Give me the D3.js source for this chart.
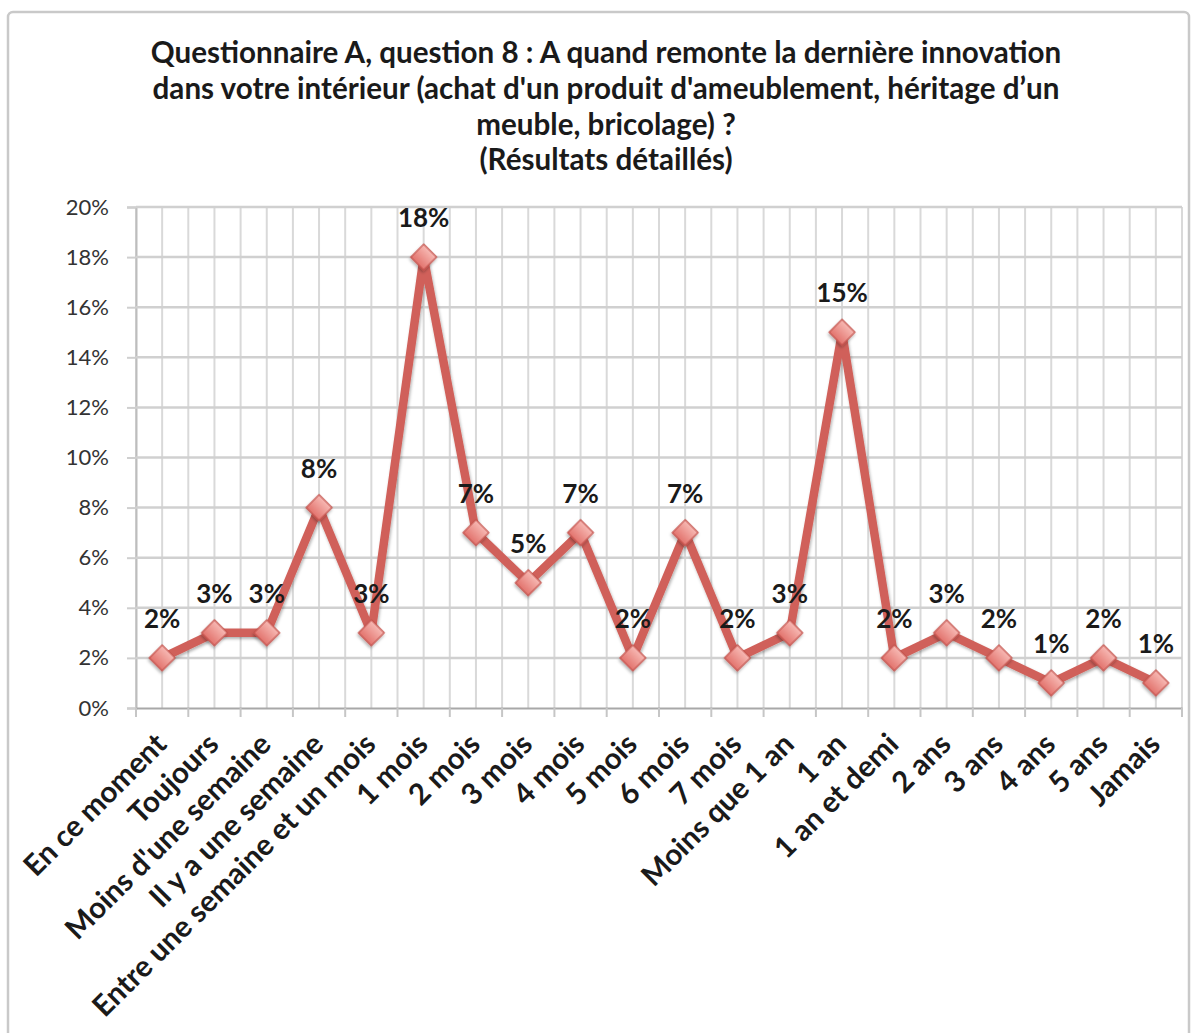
<!DOCTYPE html>
<html><head><meta charset="utf-8">
<script src="https://cdn.jsdelivr.net/npm/d3@7"></script>
<style>body{margin:0;background:#fff}svg{display:block}</style>
</head><body>
<svg id="c" width="1196" height="1033"></svg>
<script>
const titleLines = [
  "Questionnaire A, question 8 : A quand remonte la dernière innovation",
  "dans votre intérieur (achat d'un produit d'ameublement, héritage d’un",
  "meuble, bricolage) ?",
  "(Résultats détaillés)"
];
const categories = ["En ce moment","Toujours","Moins d'une semaine","Il y a une semaine","Entre une semaine et un mois","1 mois","2 mois","3 mois","4 mois","5 mois","6 mois","7 mois","Moins que 1 an","1 an","1 an et demi","2 ans","3 ans","4 ans","5 ans","Jamais"];
const values = [2,3,3,8,3,18,7,5,7,2,7,2,3,15,2,3,2,1,2,1];
const yTicks = [0,2,4,6,8,10,12,14,16,18,20];

(function(){
const svg = d3.select("#c");
const FONT = "Lato, 'Open Sans', sans-serif";

const defs = svg.append("defs");
const g1 = defs.append("linearGradient").attr("id","mk").attr("x1","0").attr("y1","0").attr("x2","0").attr("y2","1");
g1.append("stop").attr("offset","0").attr("stop-color","#f7b9b4");
g1.append("stop").attr("offset","1").attr("stop-color","#e2736d");
const f = defs.append("filter").attr("id","sh").attr("x","-50%").attr("y","-50%").attr("width","200%").attr("height","200%");
f.append("feDropShadow").attr("dx",1).attr("dy",2).attr("stdDeviation",1.5).attr("flood-color","#000").attr("flood-opacity",0.3);

svg.append("rect").attr("x",8).attr("y",12).attr("width",1181).attr("height",1040).attr("rx",5)
  .attr("fill","#fff").attr("stroke","#c9c9c9").attr("stroke-width",2.5);

svg.append("g").selectAll("text").data(titleLines).join("text")
  .attr("x",606).attr("y",(d,i)=>63+i*35.8).attr("text-anchor","middle")
  .attr("font-family",FONT).attr("font-weight","bold").attr("font-size",29.6).attr("fill","#1a1a1a")
  .text(d=>d);

const pLeft = 136, pRight = 1182, pTop = 207, pBottom = 708;
const x = d3.scaleBand().domain(categories).range([pLeft,pRight]).paddingInner(0).paddingOuter(0);
const y = d3.scaleLinear().domain([0,20]).range([pBottom,pTop]);
const cx = d => x(d) + x.bandwidth()/2;

const vlines = [];
categories.forEach(c => { vlines.push(x(c)); vlines.push(cx(c)); });
vlines.push(pRight);
svg.append("g").selectAll("line").data(vlines).join("line")
  .attr("x1",d=>d).attr("x2",d=>d).attr("y1",pTop).attr("y2",pBottom)
  .attr("stroke","#d9d9d9").attr("stroke-width",2);

const yAxis = d3.axisLeft(y).tickValues(yTicks).tickFormat(d=>d+"%").tickSize(9).tickPadding(18);
const ya = svg.append("g").attr("transform",`translate(${pLeft},0)`).call(yAxis);
ya.select(".domain").attr("stroke","#bdbdbd").attr("stroke-width",2);
ya.selectAll(".tick line").attr("stroke","#cfcfcf").attr("stroke-width",2);
ya.selectAll(".tick text").attr("font-family",FONT).attr("font-size",22).attr("fill","#333");
svg.append("g").selectAll("line").data(yTicks.filter(d=>d>0)).join("line")
  .attr("x1",pLeft).attr("x2",pRight).attr("y1",d=>y(d)).attr("y2",d=>y(d))
  .attr("stroke","#d0d0d0").attr("stroke-width",2.5);

const xa = svg.append("g").attr("transform",`translate(0,${pBottom})`)
  .call(d3.axisBottom(x).tickSize(0).tickFormat(""));
xa.select(".domain").attr("stroke","#a8a8a8").attr("stroke-width",2);
svg.append("g").selectAll("line").data(categories.map(c=>x(c)).concat([pRight])).join("line")
  .attr("x1",d=>d).attr("x2",d=>d).attr("y1",pBottom).attr("y2",pBottom+9)
  .attr("stroke","#c6c6c6").attr("stroke-width",2);
svg.append("g").selectAll("text").data(categories).join("text")
  .attr("transform",d=>`translate(${cx(d)+6},${pBottom+38}) rotate(-45)`)
  .attr("text-anchor","end").attr("font-family",FONT).attr("font-weight","bold")
  .attr("font-size",29.5).attr("fill","#1a1a1a").text(d=>d);

const pts = categories.map((c,i)=>[cx(c), y(values[i])]);
svg.append("path").datum(pts).attr("d",d3.line())
  .attr("fill","none").attr("stroke","#d0615a").attr("stroke-width",8.5).attr("stroke-linejoin","round")
  .attr("filter","url(#sh)");

svg.append("g").selectAll("path").data(pts).join("path")
  .attr("d",d3.symbol().type(d3.symbolSquare).size(330))
  .attr("transform",d=>`translate(${d[0]},${d[1]}) rotate(45)`)
  .attr("fill","url(#mk)").attr("stroke","#c4514b").attr("stroke-width",1.2)
  .attr("filter","url(#sh)");

svg.append("g").selectAll("text").data(values).join("text")
  .attr("x",(d,i)=>cx(categories[i])).attr("y",d=>y(d)-30)
  .attr("text-anchor","middle").attr("font-family",FONT).attr("font-weight","bold")
  .attr("font-size",26).attr("fill","#1a1a1a").text(d=>d+"%");
})();
</script>
</body></html>
